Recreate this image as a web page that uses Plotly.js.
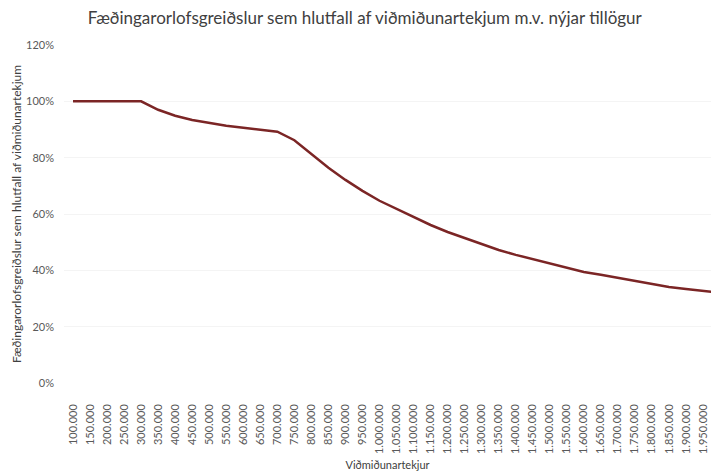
<!DOCTYPE html>
<html>
<head>
<meta charset="utf-8">
<script src="https://cdn.plot.ly/plotly-3.0.1.min.js"></script>
<style>html,body{margin:0;padding:0;background:#fff;}#chart{width:711px;height:474px;}</style>
</head>
<body>
<div id="chart"></div>
<script>
const categories = ["100.000","150.000","200.000","250.000","300.000","350.000","400.000","450.000","500.000","550.000","600.000","650.000","700.000","750.000","800.000","850.000","900.000","950.000","1.000.000","1.050.000","1.100.000","1.150.000","1.200.000","1.250.000","1.300.000","1.350.000","1.400.000","1.450.000","1.500.000","1.550.000","1.600.000","1.650.000","1.700.000","1.750.000","1.800.000","1.850.000","1.900.000","1.950.000","2.000.000"];
const ratioPercent = [100,100,100,100,100,97.0,94.9,93.4,92.4,91.3,90.6,89.9,89.2,86.2,81.3,76.4,72.1,68.2,64.7,61.8,59.0,56.1,53.6,51.5,49.4,47.2,45.5,44.0,42.3,40.9,39.4,38.4,37.3,36.2,35.2,34.1,33.4,32.7,32.0];
const yTicks = [0,0.2,0.4,0.6,0.8,1.0,1.2];

const font = "Lato, 'Open Sans', sans-serif";
const trace = {
  x: categories,
  y: ratioPercent.map(v => v/100),
  type: 'scatter',
  mode: 'lines',
  line: {color: '#7b2525', width: 2.5},
  hoverinfo: 'x+y'
};
const layout = {
  width: 711, height: 474,
  margin: {l: 64, r: 0, t: 45, b: 91},
  paper_bgcolor: '#fff', plot_bgcolor: '#fff',
  showlegend: false,
  title: {text: 'Fæðingarorlofsgreiðslur sem hlutfall af viðmiðunartekjum m.v. nýjar tillögur',
          font: {family: font, size: 17, color: '#404040'}, x: 0.513, xref: 'container', xanchor: 'center', y: 0.962, yref: 'container', yanchor: 'middle'},
  xaxis: {
    type: 'category', range: [-0.53, 37.47],
    tickmode: 'array', tickvals: categories.slice(0, 38), ticktext: categories.slice(0, 38),
    tickangle: -90, tickfont: {family: font, size: 11, color: '#595959'},
    ticklabelstandoff: 18,
    showgrid: false, zeroline: false, showline: false, ticks: '',
    title: {text: 'Viðmiðunartekjur', font: {family: font, size: 11, color: '#404040'}, standoff: 8}
  },
  yaxis: {
    range: [0, 1.2], tickvals: yTicks, tickformat: '.0%',
    tickfont: {family: font, size: 11, color: '#595959'},
    ticklabelstandoff: 9,
    showgrid: true, gridcolor: '#f4f4f4', zeroline: false, showline: false, ticks: '', ticklen: 0,
    title: {text: 'Fæðingarorlofsgreiðslur sem hlutfall af viðmiðunartekjum', font: {family: font, size: 12, color: '#404040'}, standoff: 1}
  }
};
Plotly.newPlot('chart', [trace], layout, {displayModeBar: false, staticPlot: true});
</script>
</body>
</html>
